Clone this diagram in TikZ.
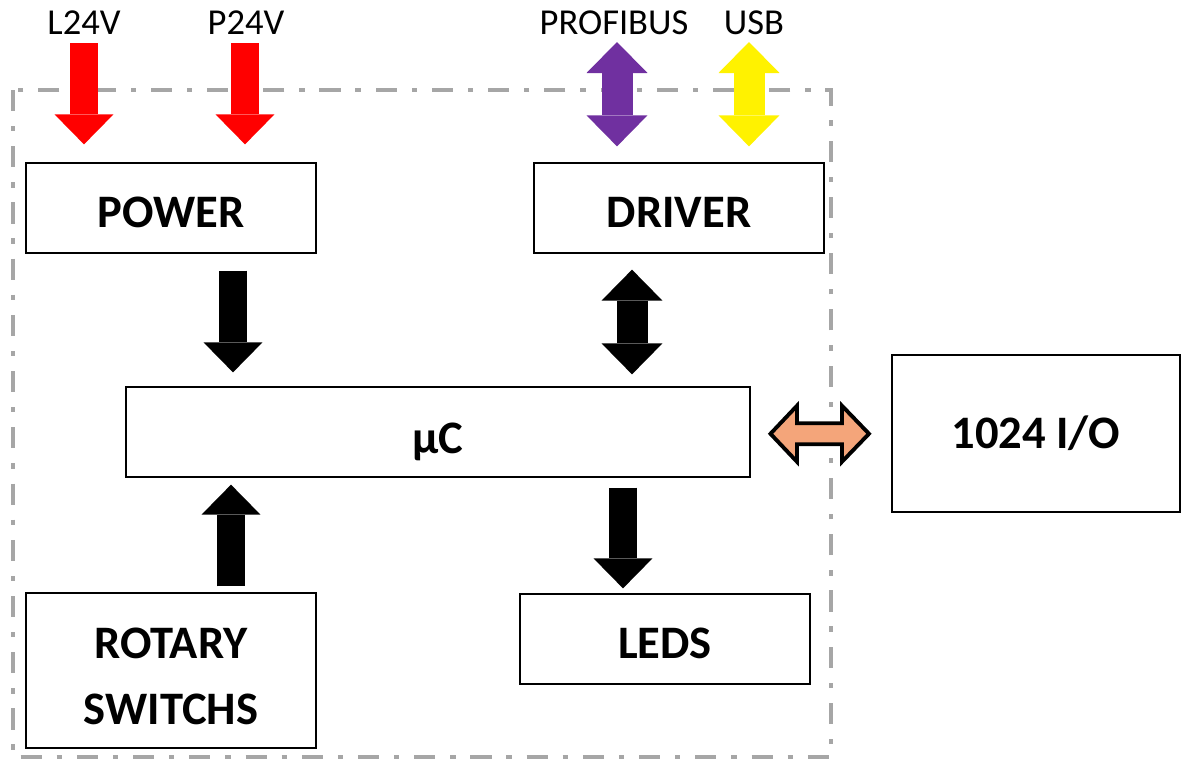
\documentclass[tikz,border=0pt]{standalone}
\usepackage{fontspec}
\setmainfont{Carlito}
\usepackage{tikz}
\usetikzlibrary{calc, arrows.meta}

\definecolor{framegray}{HTML}{A6A6A6}
\definecolor{pbpurple}{HTML}{7030A0}
\definecolor{linkorange}{HTML}{F4A57A}

\tikzset{
  blk/.style={draw, line width=0.75pt, minimum width=5.8cm, minimum height=1.8cm, inner sep=0pt,
    align=center, text height=22.7pt, text depth=0pt, font=\fontsize{26.5}{38}\selectfont\bfseries},
  lbl/.style={inner sep=0pt, anchor=base, font=\fontsize{20.8}{25}\selectfont},
  fat/.style={line width=0.56cm, -{Triangle[width=1.18cm, length=0.6cm, line width=0pt]}},
  fatboth/.style={line width=0.62cm,
    {Triangle[width=1.22cm, length=0.62cm, line width=0pt]}-{Triangle[width=1.22cm, length=0.62cm, line width=0pt]}}
}

\begin{document}
\begin{tikzpicture}[x=0.02cm, y=-0.02cm]
  \useasboundingbox (0,0) rectangle (1181,762);

  % board outline
  \draw[framegray, line width=2.3pt, dash pattern=on 12pt off 8.5pt on 3pt off 8.5pt] (13,90) rectangle (831,757);

  \node[blk] (pwr) at (171,208) {POWER};
  \node[blk] (drv) at (679,208) {DRIVER};
  \node[blk, minimum width=12.48cm, text height=25pt] (mc) at (438,432) {µC};
  \node[blk, minimum width=5.76cm, minimum height=3.14cm, text height=17pt] (io) at (1036,433.5) {1024 I/O};
  \node[blk, minimum height=3.1cm, text height=62pt] (rot) at (171,670.5) {ROTARY\\SWITCHS};
  \node[blk] (led) at (665,639) {LEDS};

  \node[lbl] (l24) at (84,34) {L24V};
  \node[lbl] (p24) at (246,34) {P24V};
  \node[lbl] (pb) at (614,34) {PROFIBUS};
  \node[lbl] (usb) at (754,34) {USB};

  % supply and bus inputs
  \draw[fat, red] ($(l24.base)+(0,9)$) -- ($(l24.base |- pwr.north)+(0,-18)$);
  \draw[fat, red] ($(p24.base)+(-1,9)$) -- ($(p24.base |- pwr.north)+(-1,-18)$);
  \draw[fatboth, pbpurple] ($(pb.base)+(3,8)$) -- ($(pb.base |- drv.north)+(3,-16)$);
  \draw[fatboth, yellow] ($(usb.base)+(-5,8)$) -- ($(usb.base |- drv.north)+(-5,-16)$);

  % internal links
  \draw[fat] ($(pwr.south)+(62,17)$) -- ($(pwr.south |- mc.north)+(62,-14)$);
  \draw[fatboth] ($(drv.south)+(-47,16)$) -- ($(drv.south |- mc.north)+(-47,-12)$);
  \draw[fat] ($(rot.north)+(60,-6)$) -- ($(rot.north |- mc.south)+(60,7)$);
  \draw[fat] ($(led.north |- mc.south)+(-42,10)$) -- ($(led.north)+(-42,-5)$);

  % link to the I/O
  \coordinate (lk) at ($(mc.east)!0.5!(io.west)+(-1.5,1)$);
  \draw[line width=2.2pt, fill=linkorange, shift={(lk)}] (-49,0) -- (-22.5,-28) -- (-22.5,-10.5)
    -- (22.5,-10.5) -- (22.5,-28) -- (49.5,0) -- (22.5,28) -- (22.5,10.5) -- (-22.5,10.5) -- (-22.5,28) -- cycle;
\end{tikzpicture}
\end{document}
